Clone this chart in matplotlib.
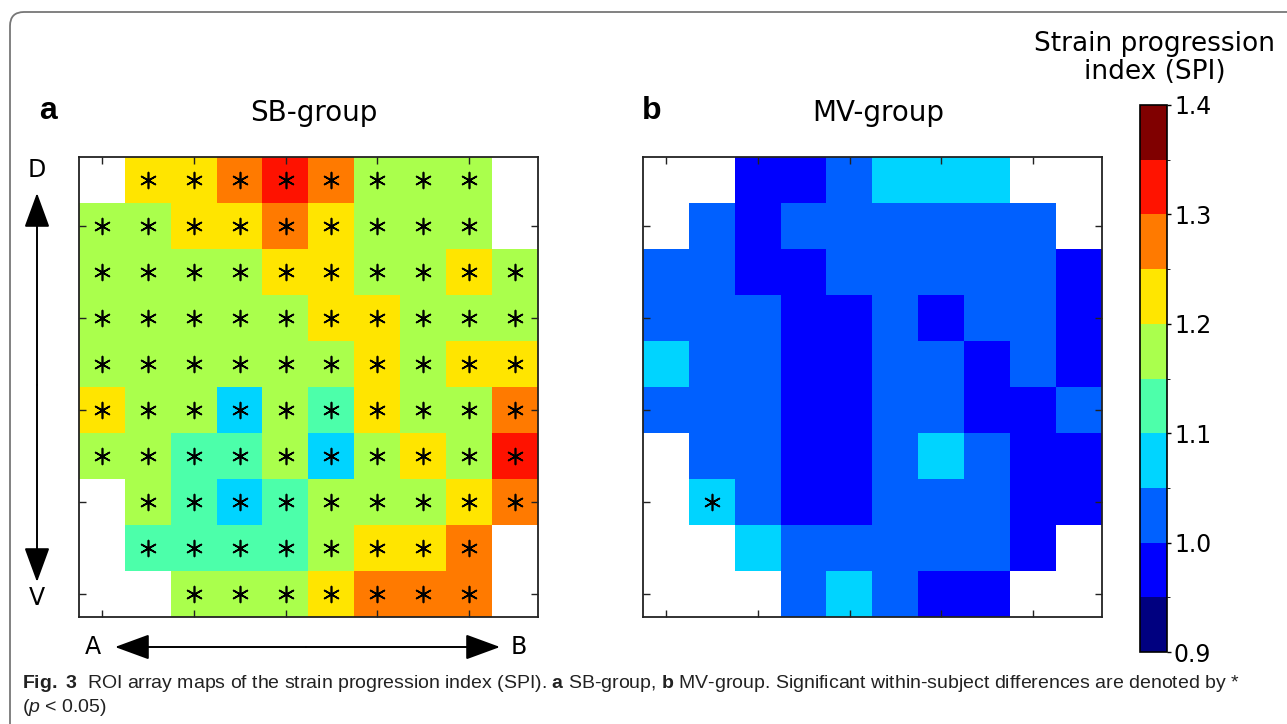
import numpy as np
import matplotlib.pyplot as plt
from matplotlib.colors import ListedColormap, BoundaryNorm
from matplotlib.patches import FancyBboxPatch
from matplotlib.transforms import IdentityTransform

n = np.nan
# SPI per ROI, rows dorsal (D) -> ventral (V), columns A -> B
sb_spi = [
    [n, 1.225, 1.225, 1.275, 1.325, 1.275, 1.175, 1.175, 1.175, n],
    [1.175, 1.175, 1.225, 1.225, 1.275, 1.225, 1.175, 1.175, 1.175, n],
    [1.175, 1.175, 1.175, 1.175, 1.225, 1.225, 1.175, 1.175, 1.225, 1.175],
    [1.175, 1.175, 1.175, 1.175, 1.175, 1.225, 1.225, 1.175, 1.175, 1.175],
    [1.175, 1.175, 1.175, 1.175, 1.175, 1.175, 1.225, 1.175, 1.225, 1.225],
    [1.225, 1.175, 1.175, 1.075, 1.175, 1.125, 1.225, 1.175, 1.175, 1.275],
    [1.175, 1.175, 1.125, 1.125, 1.175, 1.075, 1.175, 1.225, 1.175, 1.325],
    [n, 1.175, 1.125, 1.075, 1.125, 1.175, 1.175, 1.175, 1.225, 1.275],
    [n, 1.125, 1.125, 1.125, 1.125, 1.175, 1.225, 1.225, 1.275, n],
    [n, n, 1.175, 1.175, 1.175, 1.225, 1.275, 1.275, 1.275, n],
]
mv_spi = [
    [n, n, 0.975, 0.975, 1.025, 1.075, 1.075, 1.075, n, n],
    [n, 1.025, 0.975, 1.025, 1.025, 1.025, 1.025, 1.025, 1.025, n],
    [1.025, 1.025, 0.975, 0.975, 1.025, 1.025, 1.025, 1.025, 1.025, 0.975],
    [1.025, 1.025, 1.025, 0.975, 0.975, 1.025, 0.975, 1.025, 1.025, 0.975],
    [1.075, 1.025, 1.025, 0.975, 0.975, 1.025, 1.025, 0.975, 1.025, 0.975],
    [1.025, 1.025, 1.025, 0.975, 0.975, 1.025, 1.025, 0.975, 0.975, 1.025],
    [n, 1.025, 1.025, 0.975, 0.975, 1.025, 1.075, 1.025, 0.975, 0.975],
    [n, 1.075, 1.025, 0.975, 0.975, 1.025, 1.025, 1.025, 0.975, 0.975],
    [n, n, 1.075, 1.025, 1.025, 1.025, 1.025, 1.025, 0.975, n],
    [n, n, n, 1.025, 1.075, 1.025, 0.975, 0.975, n, n],
]
# significant within-subject differences (p < 0.05), 1 = asterisk
sb_sig = [
    "0111111110",
    "1111111110",
    "1111111111",
    "1111111111",
    "1111111111",
    "1111111111",
    "1111111111",
    "0111111111",
    "0111111110",
    "0011111110",
]
mv_sig = [
    "0000000000",
    "0000000000",
    "0000000000",
    "0000000000",
    "0000000000",
    "0000000000",
    "0000000000",
    "0100000000",
    "0000000000",
    "0000000000",
]
titles = ["SB-group", "MV-group"]
letters = ["a", "b"]
cb_ticks = [0.9, 1.0, 1.1, 1.2, 1.3, 1.4]

W, H = 1287, 724
fig = plt.figure(figsize=(W / 100, H / 100), dpi=100)

cmap = ListedColormap(plt.cm.jet(np.linspace(0, 1, 10)))
cmap.set_bad("white")
norm = BoundaryNorm(np.linspace(0.9, 1.4, 11), 10)


def fx(px):
    return px / W


def fy(py):
    return 1 - py / H


panels = [(sb_spi, sb_sig, 79, 48), (mv_spi, mv_sig, 643, 652)]
for i, (spi, sig, left, letter_x) in enumerate(panels):
    ax = fig.add_axes([fx(left), fy(617), 459 / W, 460 / H])
    im = ax.imshow(np.array(spi), cmap=cmap, norm=norm, aspect="auto",
                   interpolation="nearest")
    rows, cols = np.nonzero(np.array([[c == "1" for c in r] for r in sig]))
    ax.scatter(cols, rows, marker=(6, 2, 0), s=130, c="black", linewidths=1.2)
    ax.set_xticks([0, 2, 4, 6, 8])
    ax.set_yticks([1, 3, 5, 7, 9])
    ax.tick_params(direction="in", length=5, width=1, top=True, right=True,
                   labelleft=False, labelbottom=False, color="#222222")
    for sp in ax.spines.values():
        sp.set_linewidth(1.3)
        sp.set_color("#222222")
    ax.set_xlim(-0.5, 9.5)
    ax.set_ylim(9.5, -0.5)
    fig.text(fx(left + 235), fy(113), titles[i], fontsize=20, ha="center",
             va="center")
    fig.text(fx(letter_x), fy(111), letters[i], fontsize=23,
             fontweight="bold", family="Liberation Sans", ha="center",
             va="center")

cax = fig.add_axes([fx(1140), fy(652), 27 / W, 547 / H])
cb = fig.colorbar(im, cax=cax, ticks=cb_ticks)
cb.ax.set_yticklabels([f"{t:.1f}" for t in cb_ticks])
cb.ax.tick_params(labelsize=17, length=3, width=1, pad=2)
cb.outline.set_linewidth(1.2)
fig.text(fx(1155), fy(58), "Strain progression\nindex (SPI)", fontsize=19,
         ha="center", va="center", linespacing=1.1)

# orientation arrows
fig.text(fx(37), fy(170), "D", fontsize=17, ha="center", va="center")
fig.text(fx(37), fy(598), "V", fontsize=17, ha="center", va="center")
fig.text(fx(93), fy(647), "A", fontsize=17, ha="center", va="center")
fig.text(fx(519), fy(647), "B", fontsize=17, ha="center", va="center")
arrow = dict(arrowstyle="-|>,head_length=0.9,head_width=0.33", color="black",
             lw=1.4, mutation_scale=24, shrinkA=0, shrinkB=0)
for (x0, y0, x1, y1) in [(37, 385, 37, 193), (37, 385, 37, 582),
                         (306, 647, 115, 647), (306, 647, 500, 647)]:
    fig.add_artist(plt.Annotation("", xy=(fx(x1), fy(y1)),
                                  xytext=(fx(x0), fy(y0)),
                                  xycoords="figure fraction",
                                  arrowprops=arrow))

# figure frame with rounded corner
frame = FancyBboxPatch((10, -40), 1400, H - 12 + 40,
                       boxstyle="round,pad=0,rounding_size=14",
                       transform=IdentityTransform(), fill=False,
                       edgecolor="#777777", lw=1.3)
fig.add_artist(frame)

# caption
cap_font = "Liberation Sans"
plt.rcParams["mathtext.fontset"] = "custom"
plt.rcParams["mathtext.rm"] = cap_font
plt.rcParams["mathtext.bf"] = cap_font + ":bold"
plt.rcParams["mathtext.it"] = cap_font + ":italic"
cap1 = (r"$\bf{Fig.\ 3}$  ROI array maps of the strain progression index (SPI). "
        r"$\bf{a}$ SB-group, $\bf{b}$ MV-group. Significant within-subject "
        r"differences are denoted by *")
cap2 = r"($\it{p}$ < 0.05)"
fig.text(fx(22), fy(683), cap1, fontsize=14, family=cap_font, ha="left",
         va="center", color="#222222")
fig.text(fx(22), fy(708), cap2, fontsize=14, family=cap_font, ha="left",
         va="center", color="#222222")

fig.savefig("out.png", dpi=100)
